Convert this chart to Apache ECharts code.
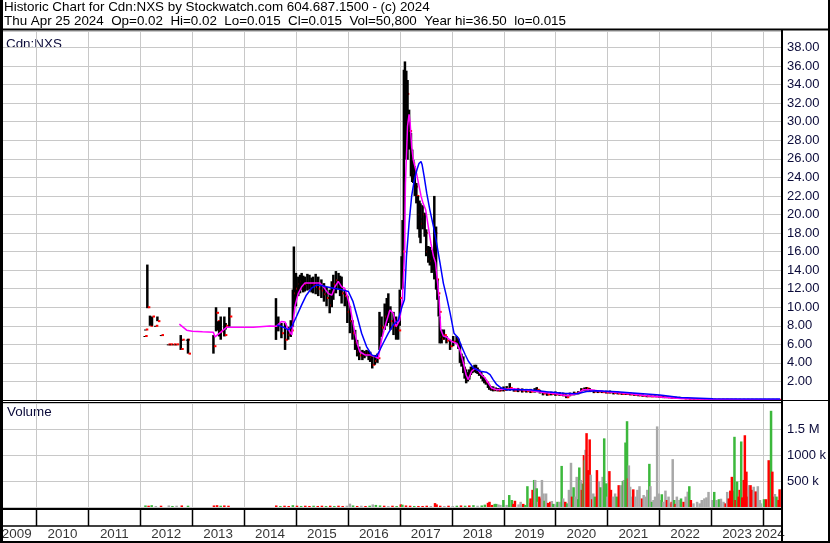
<!DOCTYPE html>
<html><head><meta charset="utf-8">
<script src="https://cdn.jsdelivr.net/npm/echarts@6/dist/echarts.min.js"></script>
<style>html,body{margin:0;padding:0;background:#fff}#c{width:830px;height:543px}</style>
</head><body><div id="c"></div><script>
// ---------------- texts ----------------
const titleLine1 = 'Historic Chart for Cdn:NXS by Stockwatch.com 604.687.1500 - (c) 2024';
const titleLine2 = 'Thu Apr 25 2024  Op=0.02  Hi=0.02  Lo=0.015  Cl=0.015  Vol=50,800  Year hi=36.50  lo=0.015';
const symbolName = 'Cdn:NXS';
const volumeTitle = 'Volume';
// ---------------- axes ----------------
const xStart = 2009.297, xEnd = 2024.366;
const yearLines = [2010,2011,2012,2013,2014,2015,2016,2017,2018,2019,2020,2021,2022,2023,2024];
const yearLabels = ['2009','2010','2011','2012','2013','2014','2015','2016','2017','2018','2019','2020','2021','2022','2023','2024'];
const yearLabelPos = [2009.62,2010.5,2011.5,2012.5,2013.5,2014.5,2015.5,2016.5,2017.5,2018.5,2019.5,2020.5,2021.5,2022.5,2023.5,2024.13];
const priceMax = 39.78, priceStep = 2, priceTopLabel = 38;
const volMax = 2000000, volStep = 500000;
const volLabels = {500000:'500 k', 1000000:'1000 k', 1500000:'1.5 M'};
// ---------------- price bars [year, low, high, close] ----------------
const bars2012_13 = [
 [2012.085,6.9,6.9,6.9],[2012.097,7.6,7.6,7.6],[2012.136,9.9,14.6,10.0],[2012.187,8.0,9.1,8.0],
 [2012.226,8.0,9.0,9.0],[2012.29,8.0,8.0,8.0],[2012.33,8.5,9.0,8.5],[2012.40,7.0,7.0,7.0],
 [2012.535,6.0,6.0,6.0],[2012.58,6.0,6.0,6.0],[2012.64,6.0,6.0,6.0],[2012.69,6.0,6.0,6.0],
 [2012.78,5.4,7.0,5.5],[2012.80,6.5,6.5,6.5],[2012.90,6.5,6.5,6.5],[2012.92,5.0,6.6,5.0],
 [2013.41,5.0,7.0,5.8],[2013.46,7.4,10.0,9.4],[2013.485,7.5,8.5,8.5],[2013.52,6.85,8.5,7.5],
 [2013.55,6.5,9.0,7.4],[2013.62,6.85,9.0,7.0],[2013.645,7.6,8.3,8.0],[2013.716,7.9,10.0,9.0]
];
const bars2014_16 = [
 [2014.615,6.48,10.98,8.0],[2014.66,7.4,9.0,8.0],[2014.72,6.66,8.3,7.2],[2014.79,5.4,8.3,6.5],
 [2014.85,6.5,7.9,7.0],[2014.90,6.8,8.6,7.5],[2014.94,7.9,11.9,10.5],[2014.96,9.35,16.55,11.5],
 [2015.0,10.1,13.7,12.0],[2015.045,11.2,13.3,12.5],[2015.08,11.5,13.5,12.8],[2015.11,11.9,13.7,13.0],
 [2015.14,11.6,13.4,12.2],[2015.17,11.7,13.3,12.5],[2015.22,11.8,13.6,12.6],[2015.26,11.9,13.5,12.6],
 [2015.30,11.6,13.2,12.3],[2015.33,11.5,13.3,12.4],[2015.38,11.4,13.6,12.2],[2015.43,11.2,13.3,12.0],
 [2015.49,11.0,13.0,11.8],[2015.54,10.6,12.6,11.4],[2015.59,10.1,12.2,11.0],[2015.65,9.35,11.9,10.2],
 [2015.69,10.0,12.8,11.6],[2015.72,10.8,13.5,12.5],[2015.77,11.5,13.9,12.9],[2015.82,11.9,13.7,12.8],
 [2015.85,11.2,13.4,12.0],[2015.88,10.4,13.3,11.5],[2015.94,10.1,11.9,11.2],[2015.99,8.3,11.2,9.5],
 [2016.04,7.2,10.1,8.5],[2016.09,6.5,8.6,7.2],[2016.14,5.4,7.56,6.2],[2016.18,4.7,6.48,5.2],
 [2016.22,4.3,5.76,4.8],[2016.28,4.3,5.4,4.8],[2016.32,4.5,5.3,5.0],[2016.36,4.7,5.4,5.0],
 [2016.40,4.3,5.3,4.8],[2016.43,4.1,5.2,4.6],[2016.47,3.4,4.7,3.8],[2016.52,3.8,4.86,4.2],
 [2016.57,4.0,5.0,4.5],[2016.61,5.4,9.5,8.0],[2016.65,6.8,9.0,7.8],[2016.71,7.56,10.4,9.0],
 [2016.75,8.0,11.0,9.6],[2016.78,8.3,11.5,9.5],[2016.82,7.56,10.1,8.5],[2016.88,7.0,9.5,8.0],
 [2016.93,6.5,9.0,7.8],[2016.97,6.5,8.3,7.5]
];
const bars2017_18 = [
 [2017.0,8.0,11.9,11.0],[2017.036,11.9,15.5,14.0],[2017.055,12.0,19.4,16.0],[2017.08,16.2,35.6,30.0],
 [2017.10,25.9,36.5,32.0],[2017.126,26.0,35.5,33.0],[2017.15,25.9,34.5,29.0],[2017.18,27.0,31.3,29.0],
 [2017.216,24.1,28.8,25.0],[2017.24,23.5,27.0,25.5],[2017.26,23.4,25.9,24.5],[2017.29,22.0,25.2,23.0],
 [2017.32,21.2,23.4,22.0],[2017.35,18.4,22.0,20.0],[2017.38,17.5,21.5,19.5],[2017.40,16.9,21.2,19.0],
 [2017.44,18.4,21.0,20.0],[2017.48,17.6,20.2,18.0],[2017.51,15.5,18.4,16.0],[2017.55,14.8,16.6,15.2],
 [2017.58,14.5,16.5,15.0],[2017.615,13.7,16.2,14.5],[2017.64,14.0,16.0,15.0],[2017.666,13.0,22.0,18.0],
 [2017.70,11.9,18.7,13.0],[2017.725,10.8,13.0,11.5],[2017.75,9.0,11.2,9.5],[2017.77,6.1,9.0,6.8],
 [2017.807,6.1,7.6,6.6],[2017.85,6.5,7.6,7.0],[2017.90,6.1,6.9,6.4],[2017.97,5.4,6.5,5.8],
 [2018.03,5.8,6.9,6.3],[2018.096,6.1,6.9,6.5],[2018.13,5.5,6.6,5.9],[2018.16,4.0,6.1,4.6],
 [2018.19,3.6,5.0,4.0],[2018.225,2.9,4.7,3.3],[2018.25,2.3,3.6,2.6],[2018.28,1.8,3.3,2.2],
 [2018.31,2.0,3.0,2.6],[2018.34,2.2,3.3,2.9],[2018.37,2.7,3.6,3.2],[2018.40,2.9,3.6,3.2],
 [2018.44,3.0,3.8,3.4],[2018.47,2.9,3.8,3.3],[2018.50,2.8,3.5,3.0],[2018.53,2.6,3.3,2.9],
 [2018.57,2.3,3.0,2.5],[2018.60,2.0,2.7,2.3],[2018.63,1.8,2.4,2.0],[2018.66,1.65,2.2,1.9],
 [2018.70,1.3,1.9,1.5],[2018.725,1.1,1.65,1.3],[2018.76,1.0,1.5,1.2],[2018.80,0.93,1.47,1.1],
 [2018.85,0.95,1.35,1.05],[2018.90,0.93,1.29,1.0],[2018.95,0.95,1.3,1.1]
];
const bars2019_24 = [
 [2019.0,0.92,1.46,1.1],[2019.06,1.0,1.5,1.2],[2019.12,1.0,1.82,1.3],[2019.2,0.9,1.28,1.0],
 [2019.28,0.85,1.3,1.05],[2019.36,0.8,1.25,1.0],[2019.44,0.8,1.2,0.95],[2019.52,0.75,1.2,0.9],
 [2019.6,0.8,1.28,1.0],[2019.64,0.85,1.39,1.1],[2019.70,0.7,1.1,0.85],[2019.76,0.5,0.92,0.7],
 [2019.84,0.45,0.9,0.6],[2019.92,0.5,0.9,0.65],[2020.0,0.45,0.92,0.6],[2020.08,0.45,0.85,0.55],
 [2020.15,0.4,0.8,0.5],[2020.21,0.2,0.6,0.3],[2020.28,0.4,0.8,0.6],[2020.36,0.5,0.9,0.7],
 [2020.44,0.6,0.95,0.8],[2020.50,0.9,1.28,1.1],[2020.56,1.0,1.35,1.2],[2020.60,1.0,1.4,1.25],
 [2020.66,0.85,1.28,1.0],[2020.74,0.74,1.1,0.9],[2020.82,0.75,1.05,0.9],[2020.90,0.75,1.0,0.85],
 [2020.98,0.7,1.0,0.8],[2021.05,0.7,1.02,0.82],[2021.12,0.6,0.92,0.75],[2021.2,0.6,0.9,0.7],
 [2021.28,0.55,0.85,0.65],[2021.36,0.55,0.85,0.65],[2021.44,0.5,0.8,0.6],[2021.52,0.45,0.75,0.55],
 [2021.6,0.4,0.7,0.5],[2021.68,0.35,0.6,0.45],[2021.76,0.3,0.55,0.4],[2021.84,0.3,0.5,0.38],
 [2021.92,0.3,0.5,0.38],[2022.0,0.25,0.5,0.33],[2022.08,0.2,0.45,0.3],[2022.16,0.2,0.4,0.28],
 [2022.24,0.15,0.38,0.25],[2022.32,0.15,0.35,0.22],[2022.40,0.12,0.35,0.2],[2022.48,0.1,0.3,0.15],
 [2022.56,0.08,0.25,0.12],[2022.64,0.06,0.22,0.1],[2022.72,0.05,0.2,0.08],[2022.80,0.04,0.15,0.07],
 [2022.88,0.04,0.12,0.06],[2022.96,0.03,0.1,0.05],[2023.04,0.03,0.09,0.05],[2023.12,0.03,0.08,0.04],
 [2023.20,0.02,0.07,0.04],[2023.28,0.02,0.06,0.04],[2023.36,0.02,0.06,0.03],[2023.44,0.02,0.06,0.03],
 [2023.52,0.02,0.05,0.03],[2023.60,0.02,0.05,0.03],[2023.68,0.02,0.05,0.03],[2023.76,0.02,0.04,0.03],
 [2023.84,0.02,0.04,0.025],[2023.92,0.015,0.04,0.025],[2024.0,0.015,0.03,0.02],[2024.08,0.015,0.03,0.02],
 [2024.16,0.015,0.03,0.02],[2024.24,0.015,0.025,0.02],[2024.31,0.015,0.02,0.015]
];
// ---------------- moving averages [year, value] ----------------
const maShort = [
 [2012.753,8.18],[2012.894,7.53],[2013.0,7.4],[2013.2,7.35],[2013.408,7.3],[2013.44,6.8],[2013.472,6.8],
 [2013.57,7.4],[2013.665,7.85],[2014.178,7.85],[2014.18,7.96],[2014.50,7.99],[2014.628,7.96],[2014.72,8.46],
 [2014.79,8.4],[2014.85,7.63],[2014.92,7.02],[2014.98,10.1],[2015.045,11.5],[2015.11,12.2],[2015.17,12.6],
 [2015.46,12.6],[2015.53,12.2],[2015.62,11.5],[2015.69,11.3],[2015.75,12.2],[2015.815,12.8],[2015.88,12.2],
 [2015.94,12.05],[2015.99,11.15],[2016.04,10.1],[2016.09,8.6],[2016.137,7.2],[2016.18,6.1],[2016.23,5.2],
 [2016.33,4.86],[2016.43,4.86],[2016.52,4.68],[2016.586,4.5],[2016.65,6.48],[2016.715,7.9],[2016.81,9.7],
 [2016.875,9.36],[2016.93,7.9],[2017.0,8.6],[2017.05,10.8],[2017.09,15.5],[2017.11,23.4],[2017.15,29.5],
 [2017.18,30.8],[2017.20,29.9],[2017.23,27.3],[2017.26,25.9],[2017.31,24.8],[2017.36,23.4],[2017.41,22.0],
 [2017.45,21.2],[2017.50,20.5],[2017.55,18.7],[2017.60,16.9],[2017.65,15.5],[2017.69,14.8],[2017.73,12.6],
 [2017.76,10.8],[2017.79,7.6],[2017.84,6.9],[2017.90,6.8],[2018.0,6.3],[2018.1,6.1],[2018.16,5.4],
 [2018.225,4.0],[2018.28,2.7],[2018.32,2.2],[2018.385,3.1],[2018.45,3.4],[2018.51,3.2],[2018.58,2.7],
 [2018.64,2.4],[2018.71,1.8],[2018.77,1.29],[2018.87,1.1],[2018.996,1.15],[2019.19,1.2],[2019.51,1.03],
 [2019.77,0.81],[2020.02,0.67],[2020.215,0.45],[2020.41,0.67],[2020.536,1.1],[2020.665,1.1],[2020.92,0.92],
 [2021.18,0.81],[2021.44,0.67],[2021.76,0.45],[2022.08,0.3],[2022.40,0.15],[2022.72,0.1],[2023.04,0.07],
 [2023.5,0.05],[2024.0,0.04],[2024.33,0.03]
];
const maLong = [
 [2014.63,8.1],[2014.68,8.0],[2014.76,7.85],[2014.85,7.56],[2014.92,7.92],[2015.01,9.0],[2015.11,10.26],
 [2015.20,11.3],[2015.30,12.05],[2015.40,12.4],[2015.49,12.34],[2015.59,12.2],[2015.72,12.05],[2015.88,11.9],
 [2016.01,11.7],[2016.10,10.6],[2016.18,9.0],[2016.265,7.2],[2016.36,5.76],[2016.46,4.86],[2016.54,4.68],
 [2016.586,5.04],[2016.68,6.12],[2016.78,7.2],[2016.875,8.1],[2016.97,8.6],[2017.04,10.0],[2017.09,10.8],
 [2017.13,15.5],[2017.18,19.1],[2017.23,22.0],[2017.28,23.7],[2017.33,24.8],[2017.37,25.5],[2017.41,25.7],
 [2017.43,25.4],[2017.47,24.1],[2017.52,22.3],[2017.58,20.5],[2017.65,18.7],[2017.71,16.9],[2017.775,14.8],
 [2017.84,12.6],[2017.90,11.2],[2017.97,9.4],[2018.045,7.2],[2018.13,6.68],[2018.19,5.8],[2018.26,4.9],
 [2018.32,4.2],[2018.42,3.45],[2018.55,3.1],[2018.67,3.0],[2018.74,2.73],[2018.80,2.2],[2018.87,1.65],
 [2018.96,1.29],[2019.06,1.1],[2019.51,1.1],[2019.83,0.89],[2020.15,0.74],[2020.41,0.67],[2020.60,0.92],
 [2020.79,0.99],[2021.18,0.89],[2021.56,0.74],[2022.01,0.53],[2022.40,0.28],[2023.04,0.13],[2024.33,0.1]
];
// ---------------- volume [year, shares, direction u/d/n] ----------------
const vol2012_18 = [
 [2012.10,30000,'u'],[2012.16,25000,'d'],[2012.22,35000,'u'],[2012.30,20000,'n'],[2012.40,25000,'d'],
 [2012.55,30000,'n'],[2012.62,20000,'u'],[2012.70,25000,'n'],[2012.80,30000,'d'],[2012.92,25000,'u'],
 [2013.42,30000,'d'],[2013.48,35000,'d'],[2013.55,25000,'u'],[2013.62,30000,'d'],[2013.70,25000,'d'],
 [2014.62,30000,'d'],[2014.70,20000,'u'],[2014.78,25000,'d'],[2014.86,20000,'d'],[2014.94,35000,'u'],
 [2015.02,25000,'d'],[2015.10,20000,'u'],[2015.18,25000,'d'],[2015.26,20000,'d'],[2015.34,25000,'u'],
 [2015.42,20000,'d'],[2015.50,25000,'d'],[2015.58,20000,'u'],[2015.66,25000,'d'],[2015.74,20000,'u'],
 [2015.82,25000,'d'],[2015.90,20000,'d'],[2015.98,25000,'n'],[2016.04,65000,'n'],[2016.10,30000,'u'],
 [2016.18,20000,'d'],[2016.26,25000,'n'],[2016.34,20000,'d'],[2016.42,25000,'u'],[2016.48,50000,'n'],
 [2016.54,40000,'u'],[2016.62,30000,'u'],[2016.70,25000,'d'],[2016.78,20000,'n'],[2016.86,25000,'d'],
 [2016.94,20000,'u'],[2017.02,50000,'d'],[2017.05,45000,'u'],[2017.12,30000,'d'],[2017.20,25000,'d'],
 [2017.28,20000,'u'],[2017.36,20000,'d'],[2017.44,20000,'d'],[2017.52,25000,'d'],[2017.60,20000,'n'],
 [2017.68,75000,'d'],[2017.71,50000,'d'],[2017.78,25000,'d'],[2017.86,20000,'n'],[2017.94,25000,'d'],
 [2018.02,20000,'n'],[2018.10,25000,'u'],[2018.18,30000,'d'],[2018.26,25000,'u'],[2018.34,30000,'d'],
 [2018.42,35000,'u'],[2018.50,25000,'n'],[2018.58,30000,'u'],[2018.64,45000,'u'],[2018.70,80000,'d'],
 [2018.73,100000,'d'],[2018.78,40000,'d'],[2018.83,60000,'u'],[2018.86,60000,'u'],[2018.90,50000,'n'],
 [2018.94,40000,'n'],[2018.997,135000,'u']
];
const vol2019_24 = [
 [2019.06,40000,'n'],[2019.11,230000,'u'],[2019.16,135000,'u'],[2019.19,60000,'d'],[2019.22,120000,'d'],
 [2019.29,50000,'n'],[2019.33,100000,'n'],[2019.38,60000,'d'],[2019.42,40000,'u'],[2019.46,400000,'u'],
 [2019.50,80000,'n'],[2019.52,165000,'d'],[2019.56,330000,'d'],[2019.59,520000,'u'],[2019.61,520000,'n'],
 [2019.64,360000,'u'],[2019.665,100000,'n'],[2019.69,200000,'d'],[2019.72,165000,'d'],[2019.74,520000,'n'],
 [2019.77,260000,'n'],[2019.79,120000,'u'],[2019.82,260000,'n'],[2019.86,80000,'d'],[2019.90,100000,'d'],
 [2019.93,115000,'n'],[2019.96,60000,'u'],
 [2020.0,50000,'n'],[2020.04,100000,'u'],[2020.08,100000,'n'],[2020.12,790000,'u'],[2020.15,165000,'n'],
 [2020.19,100000,'d'],[2020.225,70000,'u'],[2020.26,330000,'n'],[2020.30,850000,'n'],[2020.32,200000,'d'],
 [2020.35,380000,'u'],[2020.38,200000,'n'],[2020.41,580000,'n'],[2020.44,150000,'u'],[2020.46,760000,'u'],
 [2020.49,520000,'n'],[2020.51,330000,'d'],[2020.53,450000,'u'],[2020.55,1000000,'d'],[2020.565,900000,'u'],
 [2020.58,1100000,'n'],[2020.60,1420000,'d'],[2020.63,710000,'d'],[2020.66,1300000,'d'],[2020.68,620000,'n'],
 [2020.71,150000,'d'],[2020.73,260000,'n'],[2020.76,200000,'u'],[2020.80,710000,'d'],[2020.84,490000,'n'],
 [2020.87,380000,'u'],[2020.91,580000,'n'],[2020.94,1320000,'u'],[2020.98,455000,'u'],
 [2021.0,200000,'n'],[2021.04,690000,'d'],[2021.07,330000,'d'],[2021.11,200000,'n'],[2021.15,260000,'n'],
 [2021.18,200000,'u'],[2021.22,420000,'d'],[2021.26,420000,'n'],[2021.30,500000,'u'],[2021.32,520000,'n'],
 [2021.35,1240000,'u'],[2021.38,1650000,'u'],[2021.40,550000,'d'],[2021.415,800000,'n'],[2021.44,390000,'n'],
 [2021.47,200000,'n'],[2021.50,340000,'d'],[2021.54,200000,'n'],[2021.58,330000,'n'],[2021.62,400000,'n'],
 [2021.67,165000,'d'],[2021.70,230000,'n'],[2021.75,200000,'n'],[2021.77,330000,'n'],[2021.81,830000,'u'],
 [2021.83,400000,'n'],[2021.86,100000,'u'],[2021.89,135000,'n'],[2021.92,200000,'n'],[2021.96,1550000,'n'],
 [2021.99,260000,'n'],
 [2022.02,135000,'n'],[2022.05,245000,'u'],[2022.08,100000,'n'],[2022.12,315000,'n'],[2022.15,135000,'d'],
 [2022.18,200000,'n'],[2022.21,70000,'n'],[2022.24,100000,'d'],[2022.26,920000,'n'],[2022.29,135000,'u'],
 [2022.315,60000,'d'],[2022.34,200000,'n'],[2022.39,135000,'n'],[2022.42,165000,'u'],[2022.47,100000,'d'],
 [2022.51,200000,'n'],[2022.55,295000,'n'],[2022.58,400000,'u'],[2022.61,135000,'d'],[2022.66,70000,'n'],
 [2022.73,100000,'n'],[2022.78,70000,'n'],[2022.82,135000,'n'],[2022.87,165000,'n'],[2022.91,185000,'n'],
 [2022.95,290000,'n'],
 [2023.02,135000,'n'],[2023.06,290000,'u'],[2023.10,135000,'n'],[2023.15,150000,'u'],[2023.19,160000,'n'],
 [2023.24,100000,'n'],[2023.28,70000,'d'],[2023.31,290000,'n'],[2023.34,165000,'d'],[2023.37,315000,'d'],
 [2023.40,580000,'d'],[2023.42,315000,'d'],[2023.45,1350000,'u'],[2023.47,135000,'d'],[2023.50,490000,'u'],
 [2023.53,200000,'d'],[2023.55,330000,'d'],[2023.58,1260000,'u'],[2023.60,185000,'d'],[2023.63,520000,'d'],
 [2023.65,1380000,'d'],[2023.68,680000,'d'],[2023.70,200000,'d'],[2023.73,420000,'n'],[2023.76,420000,'d'],
 [2023.79,330000,'d'],[2023.82,390000,'n'],[2023.86,300000,'d'],[2023.90,400000,'n'],[2023.94,135000,'n'],
 [2023.96,70000,'n'],
 [2024.02,150000,'u'],[2024.06,150000,'d'],[2024.11,900000,'d'],[2024.155,1850000,'u'],[2024.18,680000,'d'],
 [2024.21,200000,'d'],[2024.23,250000,'n'],[2024.26,200000,'u'],[2024.30,135000,'d'],[2024.32,340000,'d']
];

// ---------------- build ----------------
const FONT = 'Liberation Sans';
const GRID = '#c8c8c8';
const LABEL_COLOR = '#0b0b3a';
const dirColor = {u:'#3cb83c', d:'#ff0000', n:'#a8a8a8'};
const priceBars = [].concat(bars2012_13, bars2014_16, bars2017_18, bars2019_24);
const volData = [].concat(vol2012_18, vol2019_24);

const chart = echarts.init(document.getElementById('c'), null, {renderer:'canvas'});

function xAxisFor(gi){
  return {type:'value', gridIndex:gi, min:xStart, max:xEnd, show:false, splitLine:{show:false}};
}
// vertical year-boundary lines, placed through the x scale of each grid
function vGridSeries(gi, color, width){
  return {type:'custom', xAxisIndex:gi, yAxisIndex:gi, silent:true, z:1, clip:false, animation:false,
    data: yearLines.map(v => [v, 0]),
    renderItem:(params, api) => {
      const p = api.coord([api.value(0), 0]);
      const cs = params.coordSys;
      const x = Math.round(p[0]) + 0.5;
      return {type:'line', shape:{x1:x, y1:cs.y, x2:x, y2:cs.y + cs.height},
        style:{stroke:color, lineWidth:width}};
    }};
}

const TEXT_FONT = '13.4px "Liberation Sans"';
const option = {
  animation:false,
  backgroundColor:'#ffffff',
  textStyle:{fontFamily:FONT},
  grid:[
    {left:0, right:48, top:31, height:369},
    {left:0, right:48, top:403, height:104},
    {left:0, right:48, top:510, height:16},
    {left:0, right:48, top:526, height:17}
  ],
  xAxis:[xAxisFor(0), xAxisFor(1), xAxisFor(2), xAxisFor(3)],
  yAxis:[
    {type:'value', gridIndex:0, position:'right', min:0, max:priceMax, interval:priceStep,
      axisLine:{show:false}, axisTick:{show:false},
      splitLine:{show:true, lineStyle:{color:GRID, width:1}},
      axisLabel:{margin:5, fontFamily:FONT, fontSize:13, color:LABEL_COLOR,
        formatter:v => (v>0 && v<=priceTopLabel+0.001 && Math.abs(v/priceStep-Math.round(v/priceStep))<1e-6) ? v.toFixed(2) : ''}},
    {type:'value', gridIndex:1, position:'right', min:0, max:volMax, interval:volStep,
      axisLine:{show:false}, axisTick:{show:false},
      splitLine:{show:true, lineStyle:{color:GRID, width:1}},
      axisLabel:{margin:5, fontFamily:FONT, fontSize:13, color:LABEL_COLOR,
        formatter:v => volLabels[Math.round(v)] || ''}},
    {type:'value', gridIndex:2, min:0, max:1, show:false},
    {type:'value', gridIndex:3, min:0, max:1, show:false}
  ],
  graphic:[
    {type:'text', left:4, top:1, silent:true, style:{text:titleLine1, font:TEXT_FONT, fill:'#000'}},
    {type:'text', left:4, top:15, silent:true, style:{text:titleLine2, font:TEXT_FONT, fill:'#000'}},
    {type:'text', left:6, top:38, silent:true, style:{text:symbolName, font:TEXT_FONT, fill:'#0b0b3a'}},
    {type:'text', left:7, top:406, silent:true, style:{text:volumeTitle, font:TEXT_FONT, fill:'#0b0b3a'}},
    {type:'line', silent:true, z:100, shape:{x1:0, y1:29.5, x2:830, y2:29.5}, style:{stroke:'#000', lineWidth:2}},
    {type:'line', silent:true, z:100, shape:{x1:1.5, y1:0, x2:1.5, y2:543}, style:{stroke:'#000', lineWidth:3}},
    {type:'line', silent:true, z:100, shape:{x1:829, y1:0, x2:829, y2:543}, style:{stroke:'#000', lineWidth:2}},
    {type:'line', silent:true, z:100, shape:{x1:782, y1:29, x2:782, y2:543}, style:{stroke:'#000', lineWidth:2}},
    {type:'line', silent:true, z:100, shape:{x1:0, y1:400.5, x2:830, y2:400.5}, style:{stroke:'#000', lineWidth:1}},
    {type:'line', silent:true, z:100, shape:{x1:0, y1:402.5, x2:782, y2:402.5}, style:{stroke:'#000', lineWidth:1}},
    {type:'line', silent:true, z:100, shape:{x1:0, y1:509, x2:782, y2:509}, style:{stroke:'#000', lineWidth:2}},
    {type:'line', silent:true, z:100, shape:{x1:0, y1:526, x2:782, y2:526}, style:{stroke:'#000', lineWidth:1.5}},
    {type:'line', silent:true, z:100, shape:{x1:0, y1:542, x2:830, y2:542}, style:{stroke:'#000', lineWidth:2}}
  ],
  series:[
    vGridSeries(0, GRID, 1),
    vGridSeries(1, GRID, 1),
    vGridSeries(2, '#000', 1.5),
    {type:'custom', name:'price', xAxisIndex:0, yAxisIndex:0, z:3, clip:true, silent:true,
      data: priceBars,
      renderItem:(params, api) => {
        const x = api.value(0), lo = api.value(1), hi = api.value(2), cl = api.value(3);
        const pLo = api.coord([x, lo]), pHi = api.coord([x, hi]), pCl = api.coord([x, cl]);
        const h = Math.max(1, pLo[1] - pHi[1]);
        return {type:'group', children:[
          {type:'rect', shape:{x:pHi[0]-1.25, y:pHi[1], width:2.5, height:h}, style:{fill:'#000'}},
          {type:'rect', shape:{x:pCl[0]+0.5, y:pCl[1]-1, width:2.5, height:2}, style:{fill:'#ff0000'}}
        ]};
      }},
    {type:'line', name:'MA short', xAxisIndex:0, yAxisIndex:0, z:4, data:maShort, showSymbol:false, symbol:'none',
      silent:true, clip:true, lineStyle:{color:'#ff00ff', width:1.5}},
    {type:'line', name:'MA long', xAxisIndex:0, yAxisIndex:0, z:5, data:maLong, showSymbol:false, symbol:'none',
      silent:true, clip:true, lineStyle:{color:'#0000ff', width:1.5}},
    {type:'custom', name:'volume', xAxisIndex:1, yAxisIndex:1, z:3, clip:true, silent:true,
      data: volData.map(d => [d[0], d[1]]),
      renderItem:(params, api) => {
        const x = api.value(0), v = api.value(1);
        const p0 = api.coord([x, 0]), p1 = api.coord([x, v]);
        const dir = volData[params.dataIndex][2];
        return {type:'rect', shape:{x:p0[0]-1.25, y:p1[1], width:2.5, height:Math.max(1, p0[1]-p1[1]+2)},
          style:{fill:dirColor[dir]}};
      }},
    {type:'scatter', xAxisIndex:3, yAxisIndex:3, symbol:'rect', symbolSize:1, silent:true,
      itemStyle:{color:'rgba(0,0,0,0)'},
      data: yearLabelPos.map((p, i) => ({value:[p, 0.5], name:yearLabels[i]})),
      label:{show:true, position:'inside', formatter:p => p.name, fontFamily:FONT, fontSize:13.4, color:'#000'}}
  ]
};
chart.setOption(option);
</script></body></html>
